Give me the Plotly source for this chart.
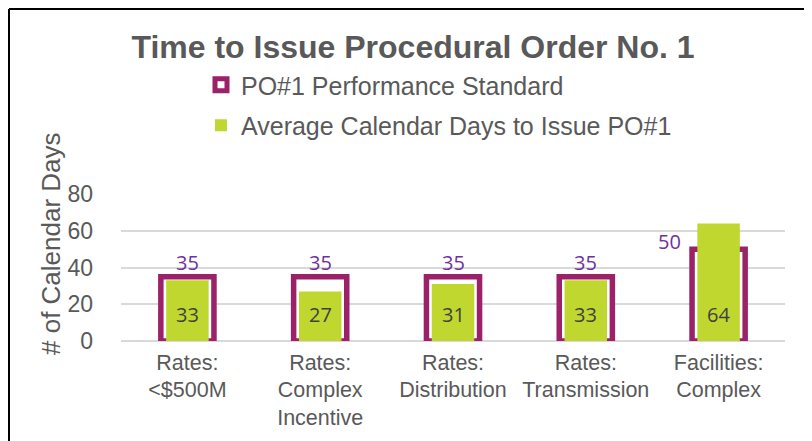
import plotly.graph_objects as go

# data
categories = ["Rates:<br><$500M", "Rates:<br>Complex<br>Incentive", "Rates:<br>Distribution",
              "Rates:<br>Transmission", "Facilities:<br>Complex"]
standard_days = [35, 35, 35, 35, 50]
average_days = [33, 27, 31, 33, 64]

purple = "#9B2268"
green = "#C0D72F"
label_purple = "#7030A0"
grey_text = "#595959"

# page body has an 8px margin, so layout pixels are page pixels minus 8
L, R, T, B = 113, 35, 186, 108
PW, PH = 812 - L - R, 441 - T - B


def px_x(p):
    return (p - 8 - L) / PW


def px_y(p):
    return (441 - B - (p - 8)) / PH


fig = go.Figure()

fig.add_trace(go.Bar(
    x=categories, y=standard_days,
    name="PO#1 Performance Standard",
    width=0.4,
    marker=dict(color="white", line=dict(color=purple, width=5.5)),
    legendgroup="a",
    hoverinfo="y"))

fig.add_trace(go.Bar(
    x=categories, y=average_days,
    name="Average Calendar Days to Issue PO#1",
    width=0.32,
    marker=dict(color=green, line=dict(width=0)),
    legendgroup="b",
    hoverinfo="y"))

# data labels
label_font = dict(family="Open Sans, Noto Sans, sans-serif", size=20)
for i, (cat, s, a) in enumerate(zip(categories, standard_days, average_days)):
    last = i == len(categories) - 1
    fig.add_annotation(
        x=cat, y=s, text=str(s), showarrow=False,
        yanchor="bottom", xshift=-49 if last else 0, yshift=-8 if last else -1,
        font=dict(label_font, color=label_purple))
    fig.add_annotation(
        x=cat, y=0, text=str(a), showarrow=False,
        yanchor="middle", yshift=27,
        font=dict(label_font, color="#404040"))

# y axis title
fig.add_annotation(
    xref="paper", yref="paper", x=px_x(51), y=px_y(244),
    xanchor="center", yanchor="middle",
    text="# of Calendar Days", textangle=-90, showarrow=False,
    font=dict(family="Liberation Sans, Arial", size=26, color=grey_text))

# chart border (top and left edges)
fig.add_shape(type="line", xref="paper", yref="paper",
              x0=px_x(9), x1=px_x(830), y0=px_y(9), y1=px_y(9),
              line=dict(color="black", width=2))
fig.add_shape(type="line", xref="paper", yref="paper",
              x0=px_x(9), x1=px_x(9), y0=px_y(9), y1=px_y(460),
              line=dict(color="black", width=2))

fig.update_layout(
    width=812, height=441,
    margin=dict(l=L, r=R, t=T, b=B),
    paper_bgcolor="white", plot_bgcolor="white",
    barmode="overlay",
    showlegend=True,
    title=dict(text="<b>Time to Issue Procedural Order No. 1</b>",
               x=(413 - 8) / 812, xanchor="center", y=1 - (47 - 8) / 441, yanchor="middle",
               font=dict(family="Liberation Sans, Arial", size=32, color=grey_text)),
    legend=dict(x=px_x(201), xanchor="left", y=px_y(62), yanchor="top",
                font=dict(family="Liberation Sans, Arial", size=25, color=grey_text),
                tracegroupgap=5, bgcolor="rgba(0,0,0,0)", itemclick=False),
    font=dict(family="Liberation Sans, Arial", color=grey_text),
)

fig.update_xaxes(showline=False, ticks="", tickfont=dict(size=21.5, color=grey_text),
                 ticklabelstandoff=6, showgrid=False, fixedrange=True)
fig.update_yaxes(range=[0, 80], tickvals=[0, 20, 40, 60, 80], showgrid=True,
                 gridcolor="#D9D9D9", gridwidth=2, zeroline=True, zerolinecolor="#D9D9D9",
                 zerolinewidth=2, ticks="", ticklabelstandoff=27,
                 tickfont=dict(size=23, color=grey_text), fixedrange=True)

fig.write_html("out.html")
